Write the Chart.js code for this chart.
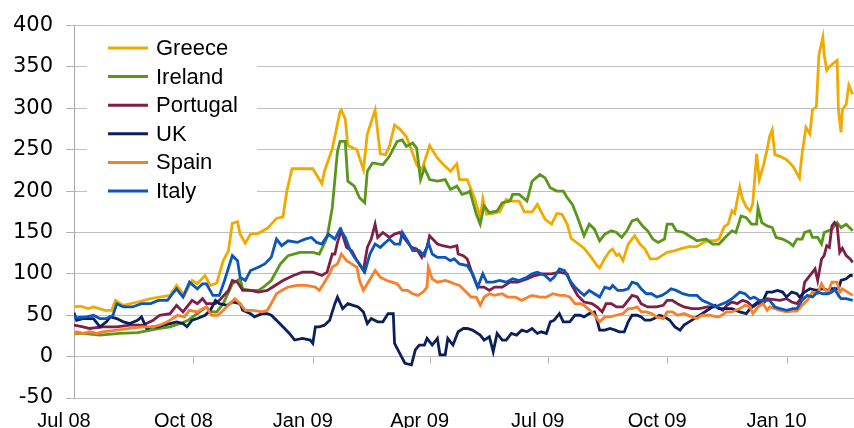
<!DOCTYPE html>
<html><head><meta charset="utf-8">
<script src="https://cdn.jsdelivr.net/npm/chart.js@4.4.1/dist/chart.umd.min.js"></script>
<style>html,body{margin:0;padding:0;background:#fff;overflow:hidden}</style>
</head><body>
<canvas id="c" width="854" height="428"></canvas>
<script>
// x values are days since 1 Jul 2008
const tickDays = [0, 92, 184, 274, 365, 457, 549];
const tickLabels = ['Jul 08', 'Oct 08', 'Jan 09', 'Apr 09', 'Jul 09', 'Oct 09', 'Jan 10'];
const seriesNames = ['Greece', 'Ireland', 'Portugal', 'UK', 'Spain', 'Italy'];

const greeceDays = [0,5,11,15,24,29,32,38,49,59,66,74,79,85,91,95,101,105,110,115,119,122,126,128,132,136,142,149,156,161,164,168,174,184,191,193,199,205,206,209,211,218,223,226,232,236,240,243,247,251,256,260,264,268,272,274,280,284,290,295,297,303,309,313,315,318,323,328,333,338,343,347,353,357,363,368,372,376,380,383,388,393,399,403,405,409,413,415,418,420,423,427,432,436,440,444,449,453,457,463,469,474,480,484,488,494,497,501,504,507,509,513,515,518,521,523,526,528,531,534,536,538,540,544,549,554,559,561,564,567,569,572,574,577,578,580,582,584,588,589,591,592,595,597,600];
const greece = [60,61,58,60,56,56,68,62,66,70,72,74,86,74,92,88,98,86,89,116,128,161,163,148,137,148,149,155,167,169,200,227,227,227,209,224,251,296,298,287,255,250,226,269,298,245,244,254,280,275,266,250,232,226,245,255,240,233,224,233,214,214,190,167,191,172,173,175,190,188,188,175,175,184,166,160,173,172,160,143,137,131,119,110,107,119,128,130,122,124,116,136,146,136,130,118,118,122,126,128,131,133,133,137,140,140,142,157,160,176,173,205,191,181,176,185,245,214,230,250,266,274,244,242,238,230,216,245,277,269,298,302,365,386,365,346,350,353,358,298,271,298,305,328,317];

const irelandDays = [0,7,20,35,49,59,66,74,82,88,95,102,105,110,115,122,128,130,136,142,146,152,159,165,174,184,189,195,199,203,205,209,211,216,220,224,226,230,238,243,249,253,256,261,264,267,270,274,280,286,290,295,299,303,305,310,313,316,320,326,330,336,338,343,349,353,359,363,367,372,377,380,384,388,393,397,401,405,409,414,418,422,426,430,434,438,442,446,450,455,457,461,464,470,476,480,487,492,497,503,507,510,514,518,522,526,527,530,534,538,541,546,551,554,557,561,563,567,569,573,576,578,584,588,591,595,600];
const ireland = [28,28,26,28,29,32,34,36,40,44,52,60,54,54,64,88,94,82,80,80,84,92,112,122,126,126,124,144,180,248,260,260,212,206,192,186,224,234,232,242,260,262,254,258,252,214,228,214,212,214,202,206,196,198,200,172,160,182,174,176,186,188,196,196,188,212,220,216,204,200,200,192,184,168,146,160,154,140,148,152,150,144,152,164,166,158,152,142,138,142,160,160,152,150,144,140,142,136,136,146,152,150,170,168,160,160,180,162,158,156,144,142,138,134,142,142,150,152,144,144,136,150,154,162,156,160,152];

const portugalDays = [0,7,12,22,33,43,53,61,66,74,79,84,91,95,99,102,109,112,119,122,126,130,136,142,149,155,161,169,176,184,191,195,199,201,203,205,206,210,214,218,223,226,229,232,234,238,243,247,251,255,260,264,268,272,274,280,284,290,295,296,300,303,306,311,316,320,324,330,336,342,349,355,361,368,374,380,383,388,393,399,403,407,410,414,418,423,427,430,434,437,442,449,454,457,461,465,470,476,482,488,495,500,503,507,511,515,519,523,527,531,534,544,549,553,557,561,563,565,568,571,573,576,578,580,582,584,586,588,590,592,595,598,600];
const portugal = [38,36,34,36,36,38,38,44,50,52,62,54,68,64,70,64,64,68,80,92,90,80,80,78,80,86,92,98,102,102,98,102,124,124,138,148,152,132,128,116,104,132,142,160,144,150,144,148,150,142,132,130,120,132,146,136,134,132,134,124,122,118,104,84,84,80,84,84,90,90,94,98,100,100,102,100,88,74,66,64,60,54,64,64,60,60,68,74,72,64,60,60,62,68,68,64,60,58,58,60,60,56,62,66,64,68,66,60,64,64,70,68,70,66,64,72,90,94,100,106,92,118,122,134,132,158,162,158,126,131,122,118,114];

const ukDays = [0,2,7,15,20,25,28,33,38,43,49,52,56,60,65,69,74,79,84,87,91,95,101,105,109,112,118,122,128,130,136,139,145,149,152,156,161,166,170,176,182,184,186,189,193,197,201,203,207,211,215,219,223,226,229,234,238,242,246,247,251,255,260,263,266,270,272,276,280,282,286,288,292,296,300,303,307,313,316,320,323,326,330,333,337,341,345,349,353,357,360,364,367,370,374,377,382,386,390,393,397,401,403,405,409,413,417,420,424,427,430,434,437,440,444,447,451,455,459,463,467,470,474,480,484,488,494,497,503,507,513,518,522,527,531,534,538,542,546,549,553,557,559,563,567,572,577,581,584,589,591,595,598,600];
const uk = [53,44,46,46,36,42,48,46,42,40,44,48,34,36,36,38,40,42,40,36,44,46,50,56,68,64,62,66,64,56,52,48,52,52,50,44,36,28,20,22,20,16,36,36,38,44,64,72,58,64,62,60,54,40,46,42,42,52,52,16,4,-8,-10,8,14,14,22,14,22,2,2,22,14,30,34,34,32,26,20,24,6,28,20,20,28,26,32,30,34,28,30,28,42,44,52,42,42,50,50,48,52,54,44,32,32,34,32,30,30,42,50,50,48,44,44,46,50,48,44,36,32,38,42,48,52,56,62,58,58,58,54,52,60,66,68,78,78,80,78,72,78,76,72,78,82,80,82,80,82,82,92,94,98,98];

const spainDays = [0,2,7,12,18,22,33,43,53,61,66,72,76,80,85,89,95,99,102,106,111,115,120,124,128,132,138,145,149,152,156,160,165,172,179,186,189,193,197,199,203,206,210,214,218,220,223,226,229,232,236,241,245,249,253,257,261,265,269,272,273,276,280,286,290,293,297,301,306,310,313,316,320,324,330,334,340,345,350,353,359,364,369,374,378,382,386,390,393,399,405,409,413,418,423,427,430,434,437,441,445,449,454,457,461,465,470,476,480,484,490,495,497,503,507,513,517,521,523,527,531,534,536,540,544,549,554,557,561,565,569,573,576,578,581,584,588,590,592,596,600];
const spain = [26,30,28,30,28,30,32,34,36,36,38,42,46,50,48,56,54,58,60,50,50,56,64,70,64,56,56,54,56,64,76,80,84,86,86,84,80,90,100,108,112,124,116,112,108,92,80,88,96,104,96,92,90,88,80,80,76,74,78,84,108,94,90,92,90,88,86,80,72,72,62,72,76,74,76,72,72,68,72,74,72,72,76,74,74,72,64,64,62,54,42,48,48,50,52,58,58,60,54,54,52,48,46,54,54,50,52,48,46,50,50,48,48,54,54,58,62,60,52,60,64,56,60,58,56,54,55,55,62,68,78,76,88,82,78,90,90,78,82,78,74];

const italyDays = [0,2,10,15,20,25,30,33,38,45,52,59,65,72,76,79,84,89,95,99,102,107,112,116,122,126,128,132,136,142,147,152,156,160,165,172,178,183,187,191,196,201,205,209,213,216,220,224,228,232,236,240,243,247,251,253,257,261,266,270,273,276,280,286,290,293,297,303,307,311,315,318,323,328,333,338,343,349,353,357,363,367,370,374,378,382,386,390,393,397,401,405,409,413,415,419,423,427,430,434,437,441,445,449,453,457,460,464,469,474,480,484,490,495,497,503,507,513,517,521,524,528,532,536,540,544,549,554,557,561,565,569,573,577,581,584,586,589,591,595,600];
const italy = [50,47,48,50,46,46,50,64,60,60,64,64,68,68,76,82,72,90,82,88,88,74,74,92,122,116,96,92,104,108,112,120,142,134,140,138,142,144,138,136,148,142,154,144,128,120,112,102,124,136,132,138,142,136,136,150,140,128,128,122,138,124,120,120,116,118,112,110,100,84,100,90,90,92,90,94,92,96,100,102,98,92,96,106,104,92,84,78,74,80,76,72,84,82,86,80,80,82,90,88,82,76,76,72,74,78,82,80,76,74,74,68,64,60,62,66,70,78,76,70,72,68,68,68,60,58,56,58,58,68,74,72,78,76,76,78,82,74,70,70,68];

const seriesDays = [greeceDays, irelandDays, portugalDays, ukDays, spainDays, italyDays];
const seriesValues = [greece, ireland, portugal, uk, spain, italy];
const seriesColors = ['#F0AA00', '#5A961A', '#7D1F46', '#0B1F5B', '#F7812A', '#0A56BA'];

const FONT = "'Liberation Sans', Arial, sans-serif";
const WIDE_FONT = "'DejaVu Sans', 'Liberation Sans', sans-serif";

const datasets = seriesNames.map((name, i) => ({
  label: name,
  data: seriesDays[i].map((d, k) => ({ x: d, y: seriesValues[i][k] })),
  borderColor: seriesColors[i],
  backgroundColor: seriesColors[i],
  borderWidth: 2.8,
  pointRadius: 0,
  tension: 0,
  fill: false,
  order: seriesNames.length - i
}));

const zeroTicksPlugin = {
  id: 'zeroTicks',
  beforeDatasetsDraw(chart) {
    const { ctx, scales: { x, y } } = chart;
    const y0 = Math.round(y.getPixelForValue(0)) + 0.5;
    ctx.save();
    ctx.strokeStyle = '#b4b4b4';
    ctx.lineWidth = 1;
    ctx.beginPath();
    tickDays.forEach(d => {
      const px = Math.round(x.getPixelForValue(d)) + 0.5;
      ctx.moveTo(px, y0);
      ctx.lineTo(px, y0 + 6);
    });
    ctx.stroke();
    ctx.restore();
  }
};

const boxLegendPlugin = {
  id: 'boxLegend',
  afterDatasetsDraw(chart) {
    const { ctx } = chart;
    ctx.save();
    ctx.fillStyle = '#ffffff';
    ctx.fillRect(87, 30, 170, 177);
    ctx.font = '22px ' + FONT;
    ctx.textBaseline = 'middle';
    ctx.textAlign = 'left';
    chart.data.datasets.forEach((ds, i) => {
      const cy = 48 + i * 28.6;
      ctx.strokeStyle = ds.borderColor;
      ctx.lineWidth = 3;
      ctx.beginPath();
      ctx.moveTo(108, cy);
      ctx.lineTo(148, cy);
      ctx.stroke();
      ctx.fillStyle = '#000';
      ctx.fillText(ds.label, 156, cy + 1);
    });
    ctx.restore();
  }
};

new Chart(document.getElementById('c'), {
  type: 'line',
  data: { datasets },
  plugins: [zeroTicksPlugin, boxLegendPlugin],
  options: {
    responsive: false,
    devicePixelRatio: 1,
    animation: false,
    layout: { padding: { top: 23, right: 0, left: 0, bottom: 0 } },
    plugins: { legend: { display: false }, tooltip: { enabled: false } },
    scales: {
      x: {
        type: 'linear',
        min: 0,
        max: 601,
        afterBuildTicks: (s) => { s.ticks = tickDays.map(v => ({ value: v })); },
        afterFit: (s) => { s.height = 30; },
        grid: { display: false },
        border: { display: false },
        ticks: {
          autoSkip: false,
          maxRotation: 0,
          padding: 3,
          labelOffset: -10,
          color: '#000',
          font: { family: FONT, size: 20 },
          callback: (v) => tickLabels[tickDays.indexOf(v)]
        }
      },
      y: {
        min: -50,
        max: 400,
        afterFit: (s) => { s.width = 74; },
        grid: { color: '#c0c0c0', lineWidth: 1, tickLength: 8, tickColor: '#b0b0b0' },
        border: { color: '#a8a8a8' },
        ticks: {
          stepSize: 50,
          padding: 13,
          color: '#000',
          font: { family: WIDE_FONT, size: 21 }
        }
      }
    }
  }
});
</script>
</body></html>
